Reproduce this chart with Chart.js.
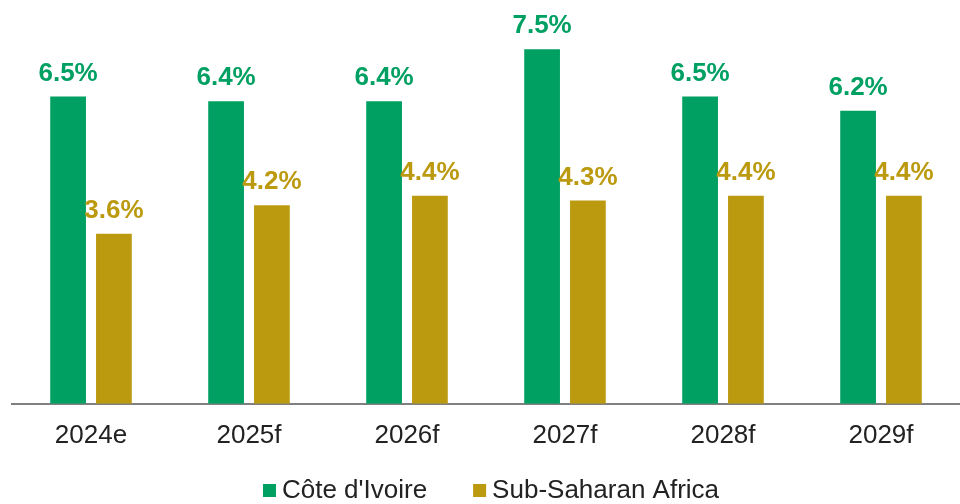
<!DOCTYPE html>
<html>
<head>
<meta charset="utf-8">
<script src="https://cdn.jsdelivr.net/npm/chart.js@4.4.1/dist/chart.umd.min.js"></script>
<style>
  html, body { margin: 0; padding: 0; background: #fff; overflow: hidden; }
  #wrap { width: 960px; height: 504px; position: relative; }
</style>
</head>
<body>
<div id="wrap"><canvas id="growth"></canvas></div>
<script>
let years = ["2024e", "2025f", "2026f", "2027f", "2028f", "2029f"];
let coteIvoire = [6.5, 6.4, 6.4, 7.5, 6.5, 6.2];
let subSaharan = [3.6, 4.2, 4.4, 4.3, 4.4, 4.4];

let green = "#00a062";
let gold = "#bc9a10";
let fontFam = "'Liberation Sans', Arial, sans-serif";

// value labels over each bar
let barLabels = {
  id: "barLabels",
  afterDatasetsDraw(chart) {
    let ctx = chart.ctx;
    ctx.save();
    ctx.font = "bold 26px " + fontFam;
    ctx.textAlign = "center";
    ctx.textBaseline = "alphabetic";
    chart.data.datasets.forEach((ds, i) => {
      chart.getDatasetMeta(i).data.forEach((bar, j) => {
        ctx.fillStyle = ds.backgroundColor;
        ctx.fillText(ds.data[j].toFixed(1) + "%", bar.x, bar.y - 16);
      });
    });
    ctx.restore();
  },
};

// legend with tighter box/text gap than the built-in one
let bottomLegend = {
  id: "bottomLegend",
  afterDraw(chart) {
    let ctx = chart.ctx;
    let area = chart.chartArea;
    ctx.save();
    ctx.font = "26px " + fontFam;
    ctx.textBaseline = "middle";
    let box = 13, gap = 6, between = 46;
    let items = chart.data.datasets.map((ds) => ({
      text: ds.label,
      color: ds.backgroundColor,
      w: ctx.measureText(ds.label).width,
    }));
    let total = items.reduce((s, it) => s + box + gap + it.w, 0) + between * (items.length - 1);
    let x = (area.left + area.right) / 2 + 5 - total / 2;
    let y = 491;
    items.forEach((it) => {
      ctx.fillStyle = it.color;
      ctx.fillRect(x, y - 7, box, box);
      ctx.fillStyle = "#222";
      ctx.fillText(it.text, x + box + gap, y);
      x += box + gap + it.w + between;
    });
    ctx.restore();
  },
};

new Chart(document.getElementById("growth"), {
  type: "bar",
  data: {
    labels: years,
    datasets: [
      { label: "Côte d'Ivoire", data: coteIvoire, backgroundColor: green },
      { label: "Sub-Saharan Africa", data: subSaharan, backgroundColor: gold },
    ],
  },
  options: {
    responsive: true,
    maintainAspectRatio: false,
    animation: false,
    categoryPercentage: 0.58,
    barPercentage: 0.78,
    layout: { padding: { left: 12, right: 0, top: 2, bottom: 45 } },
    plugins: {
      tooltip: { enabled: false },
      legend: { display: false },
    },
    scales: {
      x: {
        grid: { display: false },
        border: { display: true, color: "#808080", width: 2 },
        ticks: {
          color: "#222",
          padding: 8,
          font: { family: fontFam, size: 26 },
        },
      },
      y: {
        display: false,
        min: 0,
        max: 8.5,
      },
    },
  },
  plugins: [barLabels, bottomLegend],
});
</script>
</body>
</html>
